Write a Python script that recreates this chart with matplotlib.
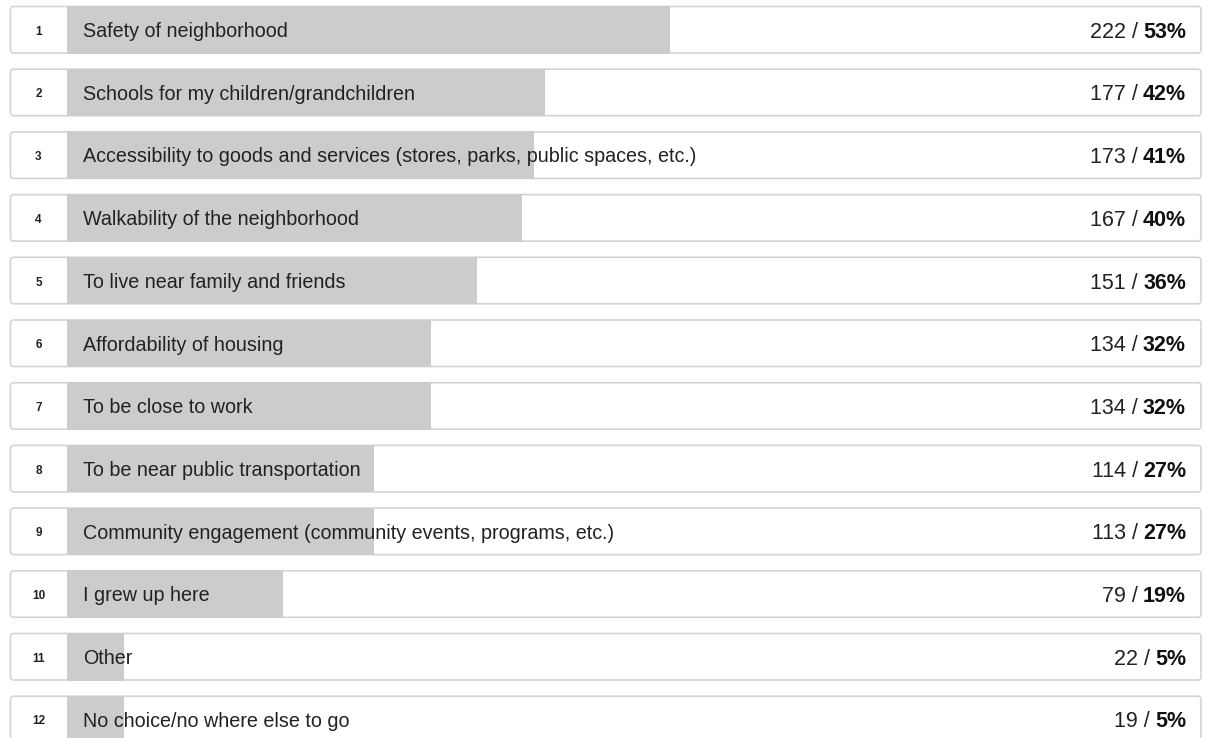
import matplotlib
matplotlib.use("Agg")
import matplotlib.pyplot as plt
from matplotlib.patches import FancyBboxPatch

ranks = [1, 2, 3, 4, 5, 6, 7, 8, 9, 10, 11, 12]
labels = [
    "Safety of neighborhood",
    "Schools for my children/grandchildren",
    "Accessibility to goods and services (stores, parks, public spaces, etc.)",
    "Walkability of the neighborhood",
    "To live near family and friends",
    "Affordability of housing",
    "To be close to work",
    "To be near public transportation",
    "Community engagement (community events, programs, etc.)",
    "I grew up here",
    "Other",
    "No choice/no where else to go",
]
counts = [222, 177, 173, 167, 151, 134, 134, 114, 113, 79, 22, 19]
percents = [53, 42, 41, 40, 36, 32, 32, 27, 27, 19, 5, 5]

plt.rcParams['font.family'] = ['Liberation Sans', 'DejaVu Sans']

W, H = 1206, 738
fig = plt.figure(figsize=(W / 100, H / 100), dpi=100)
ax = fig.add_axes([0, 0, 1, 1])
ax.set_xlim(0, W)
ax.set_ylim(H, 0)
ax.axis('off')

box_left, box_right = 10.5, 1201
bar_left = 67
pitch = 62.7
top0 = 6.5
box_h = 46.5
scale = 11.38

fig.canvas.draw()
renderer = fig.canvas.get_renderer()

for i, (r, lab, c, p) in enumerate(zip(ranks, labels, counts, percents)):
    top = top0 + i * pitch
    cy = top + box_h / 2
    box = FancyBboxPatch((box_left, top), box_right - box_left, box_h,
                         boxstyle="round,pad=0,rounding_size=3",
                         facecolor='white', edgecolor='#d4d4d4', linewidth=1.2, zorder=1)
    ax.add_patch(box)
    ax.barh(cy, p * scale, left=bar_left, height=box_h + 1, color='#cccccc', zorder=2)
    ax.text(38.5, cy + 5, str(r), ha='center', va='baseline', fontsize=8.5,
            fontweight='bold', color='#222222', zorder=3)
    ax.text(83, cy + 7.3, lab, ha='left', va='baseline', fontsize=14.2,
            color='#222222', zorder=3)
    t_pct = ax.text(1186, cy + 8.0, "%d%%" % p, ha='right', va='baseline', fontsize=15.5,
                    fontweight='bold', color='#111111', zorder=3)
    bb = t_pct.get_window_extent(renderer=renderer)
    x_left = ax.transData.inverted().transform((bb.x0, bb.y0))[0]
    ax.text(x_left + 1, cy + 8.0, "%d / " % c, ha='right', va='baseline', fontsize=15.5,
            color='#222222', zorder=3)

fig.savefig('out.png', dpi=100)
